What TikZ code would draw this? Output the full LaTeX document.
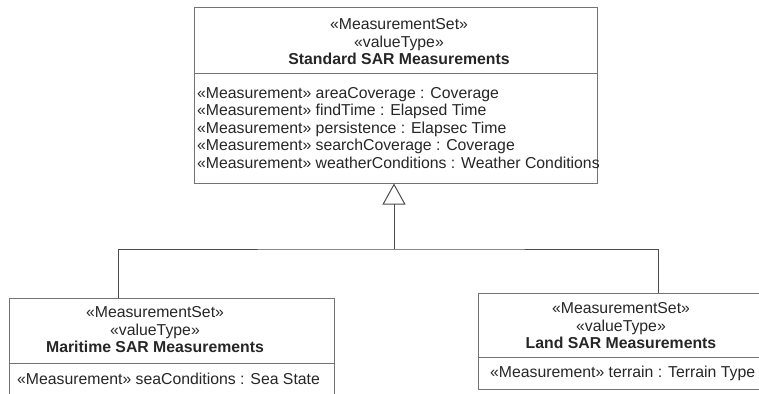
\documentclass[tikz,border=0pt]{standalone}
\usepackage{fontspec}
\setmainfont{Liberation Sans}
\usetikzlibrary{positioning, arrows.meta}

\begin{document}
\begin{tikzpicture}[x=1pt, y=-1pt,
  box/.style={draw=black!55, line width=1pt, inner sep=0pt},
  sep/.style={draw=black!55, line width=1pt},
  head/.style={align=center, inner sep=0pt, text=black!85, font=\fontsize{15.8}{17.5}\selectfont},
  attr/.style={align=left, anchor=west, inner sep=0pt, text=black!85, font=\fontsize{15.8}{17.5}\selectfont},
  gen/.style={draw=black!70, line width=1pt}]
\useasboundingbox (0,0) rectangle (759,393);
\clip (0,0) rectangle (759,393);

% Standard SAR block
\node[box, minimum width=403pt, minimum height=175pt] (std) at (395.5,95.5) {};
\draw[sep] ([yshift=-66pt]std.north west) -- ([yshift=-66pt]std.north east);
\node[head] (stdhead) at (399,42) {«MeasurementSet»\\«valueType»\\\textbf{Standard SAR Measurements}};
\node[attr] (stdattr) at (197,128) {«Measurement» areaCoverage : Coverage\\
  «Measurement» findTime : Elapsed Time\\
  «Measurement» persistence : Elapsec Time\\
  «Measurement» searchCoverage : Coverage\\
  «Measurement» weatherConditions : Weather Conditions};

% Maritime SAR block
\node[box, minimum width=325pt, minimum height=102pt] (mar) at (171.5,349) {};
\draw[sep] ([yshift=-66pt]mar.north west) -- ([yshift=-66pt]mar.north east);
\node[head] (marhead) at (155,330) {«MeasurementSet»\\«valueType»\\\textbf{Maritime SAR Measurements}};
\node[attr] (marattr) at (17,379) {«Measurement» seaConditions : Sea State};

% Land SAR block
\node[box, minimum width=286pt, minimum height=96pt] (land) at (621,341) {};
\draw[sep] ([yshift=-65pt]land.north west) -- ([yshift=-65pt]land.north east);
\node[head] (landhead) at (621,326) {«MeasurementSet»\\«valueType»\\\textbf{Land SAR Measurements}};
\node[attr] (landattr) at (490,373) {«Measurement» terrain : Terrain Type};

% Generalization
\coordinate (hub) at (394,249);
\coordinate (marin) at (118,298);
\coordinate (landin) at (658,293);
\draw[gen] (marin) |- (hub) -| (landin);
\draw[gen, -{Triangle[open, length=21pt, width=23pt]}] (hub) -- (hub |- std.south);
\end{tikzpicture}
\end{document}
